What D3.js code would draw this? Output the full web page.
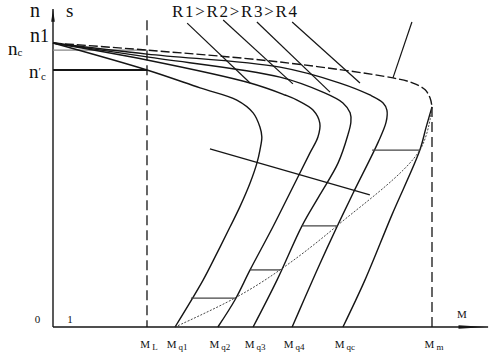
<!DOCTYPE html>
<html><head><meta charset="utf-8">
<script src="https://cdn.jsdelivr.net/npm/d3@7"></script>
<style>
body{margin:0;background:#fff}
svg{display:block}
text{font-family:"Liberation Serif","DejaVu Serif",serif;fill:#111}
</style>
</head><body><svg id="c" width="493" height="355"></svg>
<script>
// torque M in % of Mm, speed n in % of n1
const tickNames = ["L","q1","q2","q3","q4","qc","m"];
const tickValues = [24.8,32.2,43.5,52.8,63.1,76.5,100];
const speedValues = [100, 97.5, 90.5]; // n1, nc, n'c
const curveR1 = [[0,100],[24.8,90.5],[38.8,84.2],[48.5,79.9],[52.8,75.4],[54.6,70.4],[55.1,66.9],[54.6,62.3],[53.8,57.7],[52.0,50.7],[49.3,42.3],[46.7,35.2],[43.3,26.1],[39.6,16.5],[32.2,0]];
const curveR2 = [[0,100],[24.8,94.0],[52.0,85.9],[61.2,81.7],[64.4,79.9],[68.6,76.4],[70.4,71.8],[69.9,66.9],[67.8,61.3],[63.3,49.3],[58.0,35.2],[52.0,20.1],[48.0,9.5],[43.5,0]];
const curveR3 = [[0,100],[24.8,95.1],[59.9,88.0],[71.2,82.7],[76.5,78.9],[78.4,75.4],[78.6,72.2],[77.8,67.6],[75.2,57.7],[70.4,46.5],[65.7,35.6],[59.1,16.5],[52.8,0]];
const curveR4 = [[0,100],[24.8,96.1],[59.9,91.5],[75.7,85.9],[83.6,81.7],[87.1,78.9],[88.1,76.4],[87.9,72.2],[85.8,65.1],[79.2,47.2],[74.9,35.2],[70.4,22.2],[66.2,9.5],[63.1,0]];
const naturalUpper = [[0,100],[24.8,97.5],[59.9,93.3],[89.7,87.7],[95.0,85.9],[98.2,83.5],[99.5,80.6],[100,77.5]];
const naturalLower = [[100,77.5],[98.4,70.1],[96.8,62.3],[89.4,39.4],[82.3,16.5],[76.5,0]];
const switchEnvelope = [[32.2,0],[48.0,10.2],[59.9,20.1],[74.9,35.6],[96.8,62.3],[100,77.5]];
const stepSpeeds = [10.2,20.1,35.6,62.3];
const stepFrom = [36.4,52.0,65.7,84.2];
const stepTo = [48.0,59.9,74.9,96.8];
const pointerLines = [
  [[35.4,107.0],[52.0,85.9]],
  [[44.9,108.1],[63.3,85.6]],
  [[53.8,107.4],[73.1,82.7]],
  [[63.1,107.4],[81.0,85.9]],
  [[94.7,107.4],[89.7,87.7]],
  [[41.4,62.7],[83.6,46.5]]
];

const svg = d3.select("#c");
const x = d3.scaleLinear().domain([0,100]).range([53,432]);
const y = d3.scaleLinear().domain([0,100]).range([327,43]);
const ink = "#151515";

const smooth = d3.line().x(d=>x(d[0])).y(d=>y(d[1])).curve(d3.curveCatmullRom.alpha(0.5));
const straight = d3.line().x(d=>x(d[0])).y(d=>y(d[1]));

// axes
svg.append("line").attr("x1",x(0)).attr("x2",x(114.8)).attr("y1",y(0)).attr("y2",y(0))
  .attr("stroke",ink).attr("stroke-width",1.4);
svg.append("line").attr("x1",x(0)).attr("x2",x(0)).attr("y1",y(0)).attr("y2",y(112))
  .attr("stroke",ink).attr("stroke-width",1.4);
svg.append("path").attr("d",`M${x(107)},${y(0)-1.8}L${x(114.5)},${y(0)}L${x(107)},${y(0)+1.8}Z`).attr("fill",ink);
svg.append("path").attr("d",`M${x(0)-1.8},${y(107.5)}L${x(0)},${y(112)}L${x(0)+1.8},${y(107.5)}Z`).attr("fill",ink);

// dashed verticals
svg.append("line").attr("x1",x(tickValues[0])).attr("x2",x(tickValues[0])).attr("y1",y(108)).attr("y2",y(0))
  .attr("stroke",ink).attr("stroke-width",1.3).attr("stroke-dasharray","10,5");
svg.append("line").attr("x1",x(100)).attr("x2",x(100)).attr("y1",y(77.5)).attr("y2",y(0))
  .attr("stroke",ink).attr("stroke-width",1.3).attr("stroke-dasharray","10,5");

// nc and n'c levels
svg.append("line").attr("x1",x(0)).attr("x2",x(tickValues[0])).attr("y1",y(speedValues[1])).attr("y2",y(speedValues[1]))
  .attr("stroke","#888").attr("stroke-width",1.2);
svg.append("line").attr("x1",x(0)).attr("x2",x(tickValues[0])).attr("y1",y(speedValues[2])).attr("y2",y(speedValues[2]))
  .attr("stroke",ink).attr("stroke-width",2);

// curves
[curveR1,curveR2,curveR3,curveR4].forEach(c=>{
  svg.append("path").attr("d",smooth(c)).attr("fill","none").attr("stroke",ink).attr("stroke-width",1.4);
});
svg.append("path").attr("d",smooth(naturalUpper)).attr("fill","none").attr("stroke",ink).attr("stroke-width",1.4).attr("stroke-dasharray","9,3");
svg.append("path").attr("d",smooth(naturalLower)).attr("fill","none").attr("stroke",ink).attr("stroke-width",1.4);
svg.append("path").attr("d",smooth(switchEnvelope)).attr("fill","none").attr("stroke","#333").attr("stroke-width",0.9).attr("stroke-dasharray","2,1.5");

// steps
stepSpeeds.forEach((s,i)=>{
  svg.append("line").attr("x1",x(stepFrom[i])).attr("x2",x(stepTo[i])).attr("y1",y(s)).attr("y2",y(s))
    .attr("stroke","#444").attr("stroke-width",1.3);
});

// pointer lines
pointerLines.forEach(p=>{
  svg.append("path").attr("d",straight(p)).attr("fill","none").attr("stroke",ink).attr("stroke-width",1.2);
});

// bottom tick labels
tickValues.forEach((v,i)=>{
  const t = svg.append("text").attr("x",x(v)+2).attr("y",348).attr("text-anchor","middle").attr("font-size",11);
  t.append("tspan").text("M");
  t.append("tspan").attr("dx",2).attr("dy",2).attr("font-size",9).text(tickNames[i]);
});
svg.append("text").attr("x",x(107.9)).attr("y",318).attr("text-anchor","middle").attr("font-size",11).text("M");
svg.append("text").attr("x",37.5).attr("y",323).attr("text-anchor","middle").attr("font-size",11).text("0");
svg.append("text").attr("x",70).attr("y",323).attr("text-anchor","middle").attr("font-size",11).text("1");

// axis titles
svg.append("text").attr("x",30).attr("y",17).attr("font-size",20).text("n");
svg.append("text").attr("x",66).attr("y",17).attr("font-size",19).text("s");
// speed labels
const n1 = svg.append("text").attr("x",30).attr("y",y(speedValues[0])-1).attr("font-size",20);
n1.append("tspan").text("n");
n1.append("tspan").attr("font-size",18).text("1");
const nc = svg.append("text").attr("x",8).attr("y",y(speedValues[1])+5).attr("font-size",19);
nc.append("tspan").text("n");
nc.append("tspan").attr("dy",1).attr("font-size",11).text("c");
const ncp = svg.append("text").attr("x",29).attr("y",y(speedValues[2])+8).attr("font-size",19);
ncp.append("tspan").text("n");
ncp.append("tspan").attr("dy",-3).attr("font-size",11).text("′");
ncp.append("tspan").attr("dy",5).attr("font-size",11).text("c");

// R legend
svg.append("text").attr("x",172).attr("y",17).attr("font-size",17)
  .attr("textLength",125).attr("lengthAdjust","spacing").text("R1>R2>R3>R4");
</script>
</body></html>
